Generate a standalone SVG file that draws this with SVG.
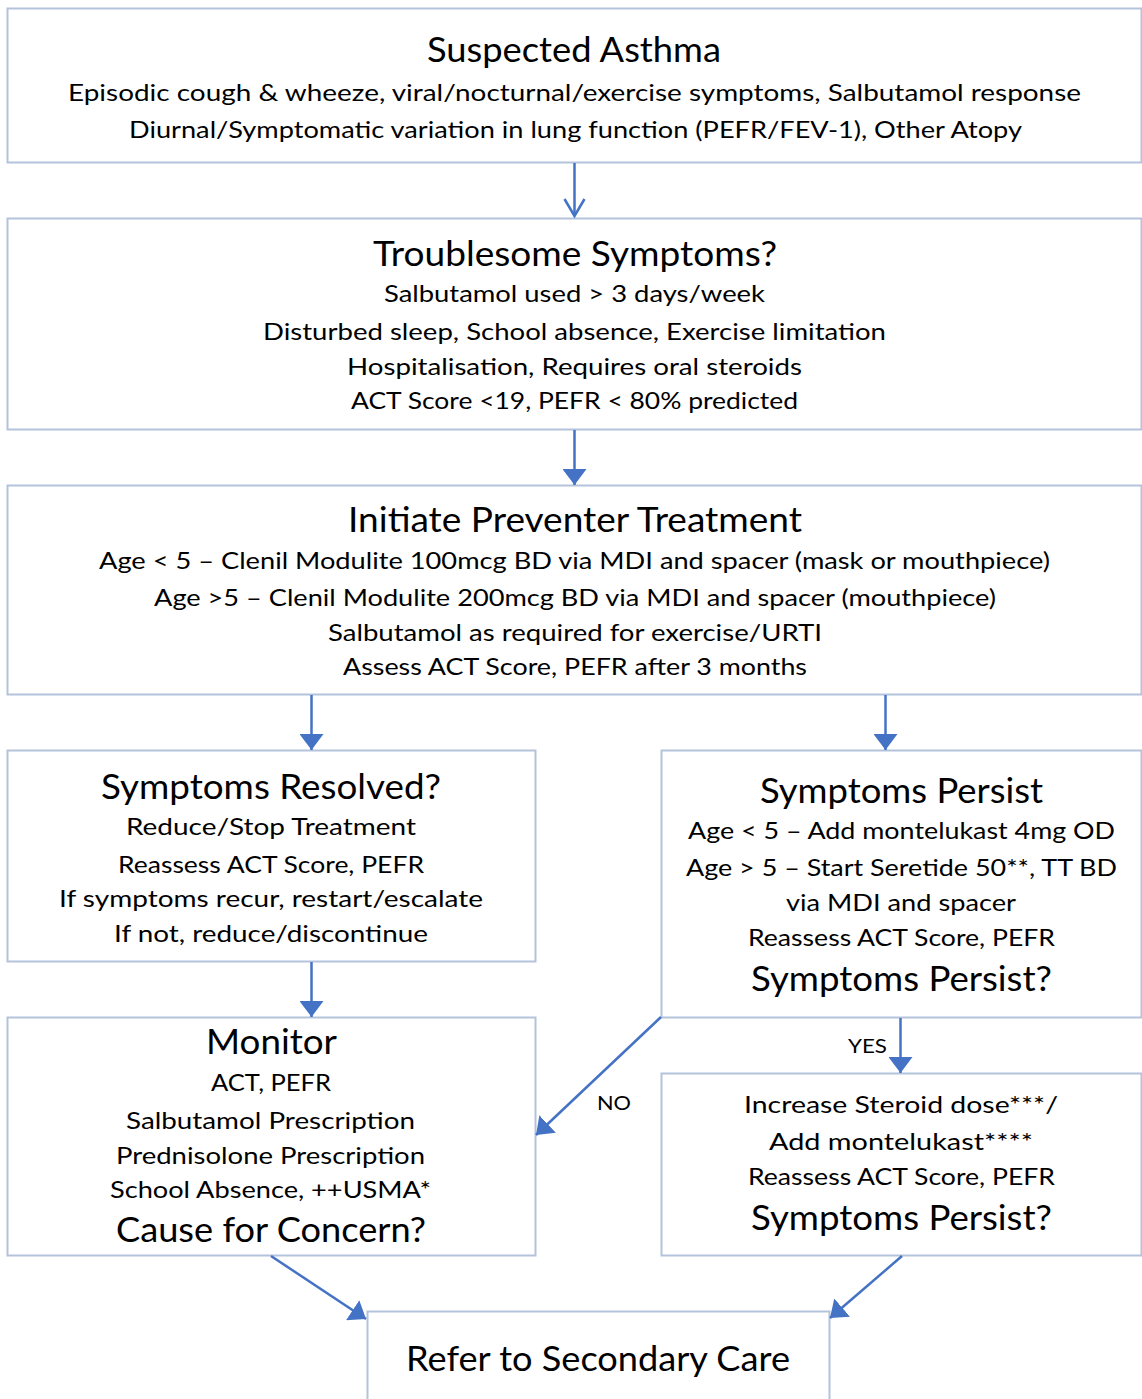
<svg xmlns="http://www.w3.org/2000/svg" width="1142" height="1399" viewBox="0 0 1142 1399">
<style>
.box{fill:#ffffff;stroke:#b4c3dc;stroke-width:2}
text{font-family:Lato,"Open Sans","Liberation Sans",sans-serif;fill:#000000;text-anchor:middle}
.t{font-size:34px}
.b{font-size:24px}
.l{font-size:20px}
.c{stroke:#4472c4;stroke-width:2.5;fill:none}
</style>
<defs>
<marker id="tri" markerUnits="userSpaceOnUse" markerWidth="16" markerHeight="24" refX="16" refY="12" orient="auto" viewBox="0 0 16 24">
<path d="M0,0 L16,12 L0,24 z" fill="#4472c4"/>
</marker>
</defs>
<rect width="1142" height="1399" fill="#ffffff"/>

<g id="n1">
<rect class="box" x="7.5" y="8.5" width="1134" height="154"/>
<text class="t" x="574" y="62" textLength="294" lengthAdjust="spacingAndGlyphs">Suspected Asthma</text>
<text class="b" x="574.5" y="101" textLength="1013" lengthAdjust="spacingAndGlyphs">Episodic cough &amp; wheeze,  viral/nocturnal/exercise symptoms, Salbutamol response</text>
<text class="b" x="575.5" y="138" textLength="893" lengthAdjust="spacingAndGlyphs">Diurnal/Symptomatic variation in lung function (PEFR/FEV-1), Other Atopy</text>
</g>

<g id="n2">
<rect class="box" x="7.5" y="218.5" width="1134" height="211"/>
<text class="t" x="575" y="266" textLength="404" lengthAdjust="spacingAndGlyphs">Troublesome Symptoms?</text>
<text class="b" x="574.5" y="302" textLength="381" lengthAdjust="spacingAndGlyphs">Salbutamol used &gt; 3 days/week</text>
<text class="b" x="574.5" y="340" textLength="623" lengthAdjust="spacingAndGlyphs">Disturbed sleep, School absence, Exercise limitation</text>
<text class="b" x="574.5" y="375" textLength="455" lengthAdjust="spacingAndGlyphs">Hospitalisation, Requires oral steroids</text>
<text class="b" x="574.5" y="409" textLength="447" lengthAdjust="spacingAndGlyphs">ACT Score &lt;19, PEFR &lt; 80% predicted</text>
</g>

<g id="n3">
<rect class="box" x="7.5" y="485.5" width="1134" height="209"/>
<text class="t" x="575" y="532" textLength="454" lengthAdjust="spacingAndGlyphs">Initiate Preventer Treatment</text>
<text class="b" x="574.5" y="569" textLength="951" lengthAdjust="spacingAndGlyphs">Age &lt; 5 – Clenil Modulite 100mcg BD via MDI and spacer (mask or mouthpiece)</text>
<text class="b" x="575" y="606" textLength="842" lengthAdjust="spacingAndGlyphs">Age &gt;5 – Clenil Modulite 200mcg BD via MDI and spacer (mouthpiece)</text>
<text class="b" x="575" y="641" textLength="494" lengthAdjust="spacingAndGlyphs">Salbutamol as required for exercise/URTI</text>
<text class="b" x="575" y="675" textLength="464" lengthAdjust="spacingAndGlyphs">Assess ACT Score, PEFR after 3 months</text>
</g>

<g id="n4">
<rect class="box" x="7.5" y="750.5" width="528" height="211"/>
<text class="t" x="271" y="799" textLength="340" lengthAdjust="spacingAndGlyphs">Symptoms Resolved?</text>
<text class="b" x="271" y="835" textLength="290" lengthAdjust="spacingAndGlyphs">Reduce/Stop Treatment</text>
<text class="b" x="271" y="873" textLength="306" lengthAdjust="spacingAndGlyphs">Reassess ACT Score, PEFR</text>
<text class="b" x="271" y="907" textLength="424" lengthAdjust="spacingAndGlyphs">If symptoms recur, restart/escalate</text>
<text class="b" x="271" y="942" textLength="314" lengthAdjust="spacingAndGlyphs">If not, reduce/discontinue</text>
</g>

<g id="n5">
<rect class="box" x="661.5" y="750.5" width="480" height="267"/>
<text class="t" x="901.5" y="803" textLength="283" lengthAdjust="spacingAndGlyphs">Symptoms Persist</text>
<text class="b" x="901.5" y="839" textLength="427" lengthAdjust="spacingAndGlyphs">Age &lt; 5 – Add montelukast 4mg OD</text>
<text class="b" x="901.5" y="876" textLength="431" lengthAdjust="spacingAndGlyphs">Age &gt; 5 – Start Seretide 50**, TT BD</text>
<text class="b" x="901" y="911" textLength="230" lengthAdjust="spacingAndGlyphs">via MDI and spacer</text>
<text class="b" x="901.5" y="946" textLength="307" lengthAdjust="spacingAndGlyphs">Reassess ACT Score, PEFR</text>
<text class="t" x="901.5" y="991" textLength="301" lengthAdjust="spacingAndGlyphs">Symptoms Persist?</text>
</g>

<g id="n6">
<rect class="box" x="7.5" y="1017.5" width="528" height="238"/>
<text class="t" x="271.5" y="1054" textLength="131" lengthAdjust="spacingAndGlyphs">Monitor</text>
<text class="b" x="271" y="1091" textLength="120" lengthAdjust="spacingAndGlyphs">ACT, PEFR</text>
<text class="b" x="270.5" y="1129" textLength="289" lengthAdjust="spacingAndGlyphs">Salbutamol Prescription</text>
<text class="b" x="270.5" y="1164" textLength="309" lengthAdjust="spacingAndGlyphs">Prednisolone Prescription</text>
<text class="b" x="270.5" y="1198" textLength="321" lengthAdjust="spacingAndGlyphs">School Absence, ++USMA*</text>
<text class="t" x="271" y="1242" textLength="310" lengthAdjust="spacingAndGlyphs">Cause for Concern?</text>
</g>

<g id="n7">
<rect class="box" x="661.5" y="1073.5" width="480" height="182"/>
<text class="b" x="901" y="1113" textLength="314" lengthAdjust="spacingAndGlyphs">Increase Steroid dose***/</text>
<text class="b" x="901" y="1150" textLength="264" lengthAdjust="spacingAndGlyphs">Add montelukast****</text>
<text class="b" x="901.5" y="1185" textLength="307" lengthAdjust="spacingAndGlyphs">Reassess ACT Score, PEFR</text>
<text class="t" x="901.5" y="1230" textLength="301" lengthAdjust="spacingAndGlyphs">Symptoms Persist?</text>
</g>

<g id="n8">
<rect class="box" x="367.5" y="1311.5" width="462" height="110"/>
<text class="t" x="598" y="1371" textLength="384" lengthAdjust="spacingAndGlyphs">Refer to Secondary Care</text>
</g>

<g id="connectors">
<line class="c" x1="574.5" y1="163" x2="574.5" y2="216" stroke-width="2"/>
<polyline class="c" points="564.5,199 574.5,216 584.5,199" stroke-width="2"/>
<line class="c" x1="574.5" y1="430" x2="574.5" y2="485" marker-end="url(#tri)"/>
<line class="c" x1="311.5" y1="695" x2="311.5" y2="750" marker-end="url(#tri)"/>
<line class="c" x1="885.5" y1="695" x2="885.5" y2="750" marker-end="url(#tri)"/>
<line class="c" x1="311.5" y1="962" x2="311.5" y2="1017" marker-end="url(#tri)"/>
<line class="c" x1="900.5" y1="1018" x2="900.5" y2="1073" marker-end="url(#tri)"/>
<line class="c" x1="661" y1="1017" x2="536" y2="1135" marker-end="url(#tri)"/>
<line class="c" x1="271" y1="1256" x2="366" y2="1319" marker-end="url(#tri)"/>
<line class="c" x1="902" y1="1256" x2="830" y2="1318" marker-end="url(#tri)"/>
<text class="l" x="867.5" y="1053" textLength="39" lengthAdjust="spacingAndGlyphs">YES</text>
<text class="l" x="614" y="1110" textLength="34" lengthAdjust="spacingAndGlyphs">NO</text>
</g>
</svg>
